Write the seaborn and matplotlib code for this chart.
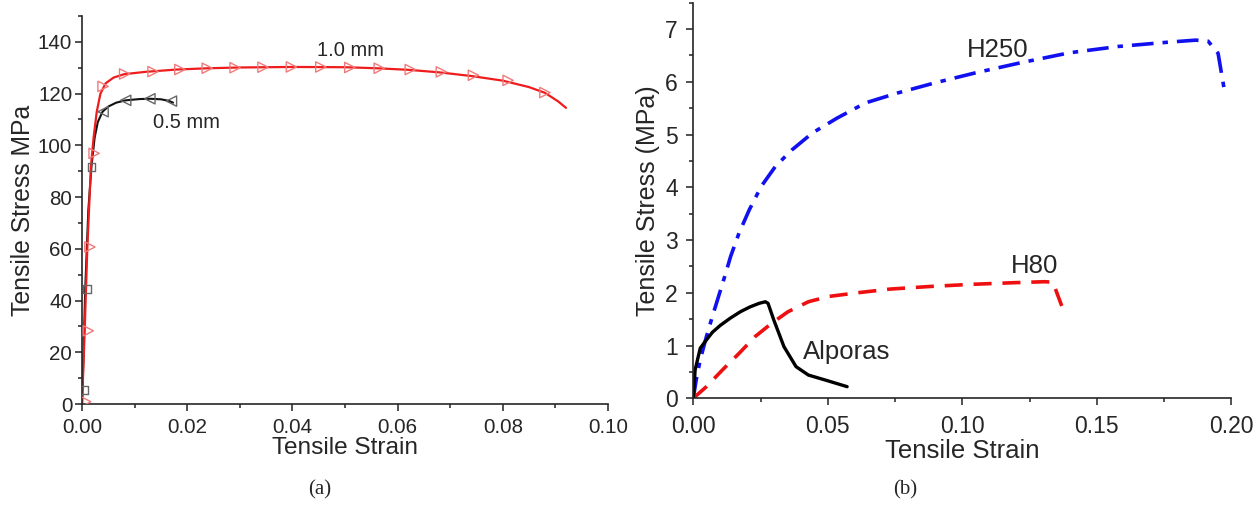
import numpy as np
import pandas as pd
import matplotlib
matplotlib.use("Agg")
import matplotlib.pyplot as plt
import seaborn as sns

# ---- panel (a): tensile curves of two sheet thicknesses ----
thick_strain = [0, 0.0005, 0.001, 0.0017, 0.0022, 0.0028, 0.0035, 0.0045, 0.006, 0.008,
                0.012, 0.018, 0.024, 0.03, 0.04, 0.05, 0.056, 0.062, 0.068, 0.074,
                0.08, 0.085, 0.088, 0.0905, 0.092]
thick_stress = [0, 28, 60, 92, 103, 113, 120, 124, 126.2, 127.5,
                128.4, 129.3, 129.8, 130.1, 130.3, 130.2, 129.8, 129.2, 128.2, 126.8,
                125, 122.5, 120.3, 117, 114.5]
thick_mk_strain = [0.0007, 0.0012, 0.0015, 0.0023, 0.004, 0.0081, 0.0135, 0.0186, 0.0238,
                   0.0291, 0.0344, 0.0398, 0.0454, 0.0509, 0.0565, 0.0624, 0.0683, 0.0744,
                   0.081, 0.088]
thick_mk_stress = [0.9, 28.3, 60.7, 96.9, 122.8, 127.6, 128.5, 129.3, 129.8,
                   130, 130.2, 130.3, 130.3, 130.1, 129.8, 129.3, 128.4, 127.1,
                   125.1, 120.4]

thin_strain = [0, 0.0003, 0.0006, 0.0012, 0.0018, 0.0024, 0.003, 0.0039, 0.005, 0.0065,
               0.0083, 0.011, 0.013, 0.015, 0.0165, 0.0173]
thin_stress = [0, 20, 44, 75, 92, 103, 109, 113, 115, 116.5,
               117.4, 117.9, 118, 117.8, 117.2, 116.5]
thin_sq_strain = [0.0005, 0.001, 0.0018]
thin_sq_stress = [5.4, 44.4, 91.6]
thin_tri_strain = [0.004, 0.0083, 0.0129, 0.017]
thin_tri_stress = [113, 117.4, 118, 117.1]

# ---- panel (b): foams ----
h250_strain = [0, 0.0011, 0.0026, 0.0049, 0.0071, 0.0094, 0.0117, 0.0139, 0.017, 0.0208,
               0.0253, 0.0306, 0.0367, 0.0443, 0.0534, 0.064, 0.0761, 0.0898, 0.1049,
               0.1216, 0.1398, 0.158, 0.1762, 0.1868, 0.1914, 0.1951, 0.1974]
h250_stress = [0, 0.35, 0.73, 1.17, 1.55, 1.93, 2.31, 2.69, 3.13, 3.57,
               4.02, 4.40, 4.71, 5.03, 5.31, 5.60, 5.79, 5.98, 6.17,
               6.36, 6.55, 6.67, 6.75, 6.79, 6.77, 6.54, 5.85]

h80_strain = [0, 0.0049, 0.0109, 0.017, 0.023, 0.0291, 0.0352, 0.0428, 0.0503, 0.061,
              0.0731, 0.0882, 0.1034, 0.1186, 0.1307, 0.1337, 0.1375]
h80_stress = [0, 0.22, 0.54, 0.85, 1.17, 1.42, 1.64, 1.83, 1.93, 2.0,
              2.07, 2.12, 2.16, 2.19, 2.21, 2.20, 1.68]

alp_strain = [0, 0.0007, 0.0026, 0.0045, 0.0071, 0.01, 0.0138, 0.0175, 0.021, 0.0245,
              0.0268, 0.0278, 0.0299, 0.0337, 0.0382, 0.0428, 0.0488, 0.0572]
alp_stress = [0, 0.54, 0.95, 1.08, 1.25, 1.38, 1.52, 1.64, 1.73, 1.80,
              1.83, 1.80, 1.49, 0.98, 0.60, 0.44, 0.35, 0.22]

sns.set_style("ticks")
plt.rcParams['font.family'] = ['Liberation Sans', 'DejaVu Sans']
plt.rcParams['xtick.major.size'] = 5
plt.rcParams['ytick.major.size'] = 5
plt.rcParams['xtick.minor.size'] = 3
plt.rcParams['ytick.minor.size'] = 3
plt.rcParams['axes.linewidth'] = 1.2

fig = plt.figure(figsize=(12.6, 5.08), dpi=100)
ax1 = fig.add_axes([0.0651, 0.2047, 0.4175, 0.7638])
ax2 = fig.add_axes([0.5502, 0.2160, 0.4270, 0.7787])

# panel (a)
red = '#ee1c1c'
sns.lineplot(x=thin_strain, y=thin_stress, ax=ax1, color='#111111', lw=1.5,
             sort=False, estimator=None)
sns.lineplot(x=thick_strain, y=thick_stress, ax=ax1, color=red, lw=1.6,
             sort=False, estimator=None)
sns.scatterplot(x=thick_mk_strain, y=thick_mk_stress, ax=ax1, marker='>', s=55,
                facecolor='none', edgecolor='#f07a7a', linewidth=1.0, zorder=3)
sns.scatterplot(x=thin_sq_strain, y=thin_sq_stress, ax=ax1, marker='s', s=30,
                facecolor='none', edgecolor='#666666', linewidth=1.0, zorder=3)
sns.scatterplot(x=thin_tri_strain, y=thin_tri_stress, ax=ax1, marker='<', s=55,
                facecolor='none', edgecolor='#666666', linewidth=1.0, zorder=3)
ax1.text(0.0511, 136.5, '1.0 mm', fontsize=14.5, ha='center', va='center')
ax1.text(0.0199, 108.7, '0.5 mm', fontsize=14.5, ha='center', va='center')

ax1.set_xlim(0, 0.1)
ax1.set_ylim(0, 150)
ax1.set_xticks(np.arange(0, 0.101, 0.02))
ax1.set_xticks(np.arange(0.01, 0.1, 0.02), minor=True)
ax1.set_yticks(np.arange(0, 141, 20))
ax1.set_yticks(np.arange(10, 151, 20), minor=True)
ax1.set_xticklabels(['0.00', '0.02', '0.04', '0.06', '0.08', '0.10'])
ax1.tick_params(labelsize=14.8)
ax1.tick_params(axis='x', pad=5)
ax1.tick_params(axis='y', pad=2)
ax1.set_xlabel('Tensile Strain', fontsize=17.6, labelpad=0)
ax1.set_ylabel('Tensile Stress MPa', fontsize=17.8, labelpad=2)

# panel (b)
sns.lineplot(x=h250_strain, y=h250_stress, ax=ax2, color='#1010f0', lw=2.6,
             sort=False, estimator=None, linestyle=(0, (6, 2.5, 1.5, 2.5)))
sns.lineplot(x=h80_strain, y=h80_stress, ax=ax2, color='#ee1010', lw=2.6,
             sort=False, estimator=None, linestyle=(0, (5, 3)))
sns.lineplot(x=alp_strain, y=alp_stress, ax=ax2, color='black', lw=2.4,
             sort=False, estimator=None)
ax2.text(0.1133, 6.61, 'H250', fontsize=18.5, ha='center', va='center')
ax2.text(0.127, 2.50, 'H80', fontsize=18.5, ha='center', va='center')
ax2.text(0.0572, 0.885, 'Alporas', fontsize=18.5, ha='center', va='center')

ax2.set_xlim(0, 0.2)
ax2.set_ylim(0, 7.5)
ax2.set_xticks([0, 0.05, 0.10, 0.15, 0.20])
ax2.set_xticks([0.025, 0.075, 0.125, 0.175], minor=True)
ax2.set_xticklabels(['0.00', '0.05', '0.10', '0.15', '0.20'])
ax2.set_yticks(range(0, 8))
ax2.set_yticks(np.arange(0.5, 7.6, 1), minor=True)
ax2.tick_params(labelsize=16.5)
ax2.tick_params(axis='x', pad=7)
ax2.tick_params(axis='y', pad=6)
ax2.set_xlabel('Tensile Strain', fontsize=18.5, labelpad=1)
ax2.set_ylabel('Tensile Stress (MPa)', fontsize=18, labelpad=4)

for ax in (ax1, ax2):
    sns.despine(ax=ax)
    ax.tick_params(which='both', width=1.2, color='#333333')

fig.text(320 / 1260, 1 - 490 / 508, '(a)', fontsize=15, family='Liberation Serif',
         ha='center', va='center')
fig.text(905 / 1260, 1 - 490 / 508, '(b)', fontsize=15, family='Liberation Serif',
         ha='center', va='center')

fig.savefig('out.png', dpi=100)
